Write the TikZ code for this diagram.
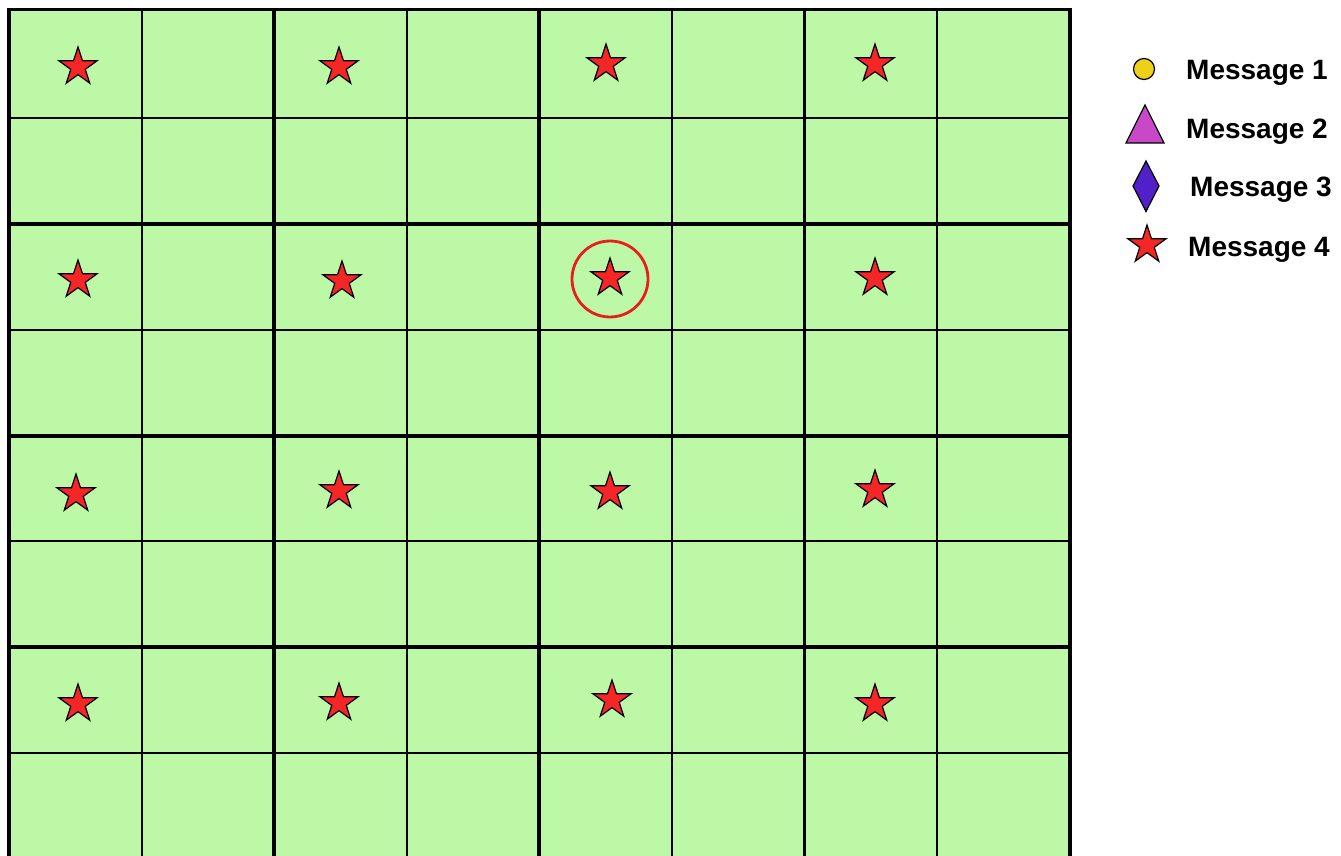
\documentclass[tikz,border=0pt]{standalone}
\usepackage{fontspec}
\setmainfont{Liberation Sans}
\usetikzlibrary{shapes.geometric}
\definecolor{cellgreen}{RGB}{189,248,166}
\definecolor{starred}{RGB}{245,38,38}
\definecolor{ringred}{RGB}{232,30,30}
\definecolor{msgyellow}{RGB}{236,208,26}
\definecolor{msgpink}{RGB}{200,72,200}
\definecolor{msgblue}{RGB}{82,32,200}
\tikzset{
  thinline/.style={line width=1.8pt, black},
  thickline/.style={line width=3.8pt, black},
  msgstar/.style={star, star points=5, star point ratio=2.618, minimum size=40pt, inner sep=0pt, fill=starred, draw=black, line width=1.2pt},
  legtext/.style={anchor=west, inner sep=0pt, font=\bfseries\fontsize{28}{30}\selectfont},
  legshape/.style={draw=black, line width=1.2pt}
}
\begin{document}
\begin{tikzpicture}[x=1pt,y=-1pt]
\useasboundingbox (0,0) rectangle (1341,856);
\fill[cellgreen] (9,9.5) rectangle (1069.7,856);
% thin grid lines
\foreach \x in {141.6,406.7,671.9,937.1} \draw[thinline] (\x,9.5) -- (\x,856);
\foreach \y in {118,330,541,752.7} \draw[thinline] (9,\y) -- (1069.7,\y);
% thick grid lines
\foreach \y in {224,436,647} \draw[thickline] (9,\y) -- (1069.7,\y);
\foreach \x in {9,274.1,539.3,804.5,1069.7} \draw[thickline] (\x,7.6) -- (\x,856);
\draw[thickline] (7.1,9.5) -- (1071.6,9.5);
% stars
\node[msgstar] (s11) at (78,67) {};
\node[msgstar] (s12) at (339,67) {};
\node[msgstar] (s13) at (606,64) {};
\node[msgstar] (s14) at (875,64) {};
\node[msgstar] (s21) at (78,280) {};
\node[msgstar] (s22) at (342,281) {};
\node[msgstar] (s23) at (610,278) {};
\node[msgstar] (s24) at (875,278) {};
\node[msgstar] (s31) at (76,494) {};
\node[msgstar] (s32) at (339,491) {};
\node[msgstar] (s33) at (610,492) {};
\node[msgstar] (s34) at (875,490) {};
\node[msgstar] (s41) at (78,704) {};
\node[msgstar] (s42) at (339,703) {};
\node[msgstar] (s43) at (612,700) {};
\node[msgstar] (s44) at (875,704) {};
% highlight ring
\node[circle, draw=ringred, line width=2.8pt, minimum size=76pt, inner sep=0pt] (ring) at (610,279) {};
% legend
\node[circle, legshape, fill=msgyellow, minimum size=21pt, inner sep=0pt] (l1) at (1144,69) {};
\draw[legshape, fill=msgpink] (1126,143) -- (1164,143) -- (1145,105) -- cycle;
\draw[legshape, fill=msgblue] (1146,161) -- (1159,186) -- (1146,211.5) -- (1133,186) -- cycle;
\node[msgstar] (l4) at (1147,245) {};
\node[legtext] (t1) at (1186,72.5) {Message 1};
\node[legtext] (t2) at (1186,132) {Message 2};
\node[legtext] (t3) at (1190,190) {Message 3};
\node[legtext] (t4) at (1188,249.5) {Message 4};
\end{tikzpicture}
\end{document}
